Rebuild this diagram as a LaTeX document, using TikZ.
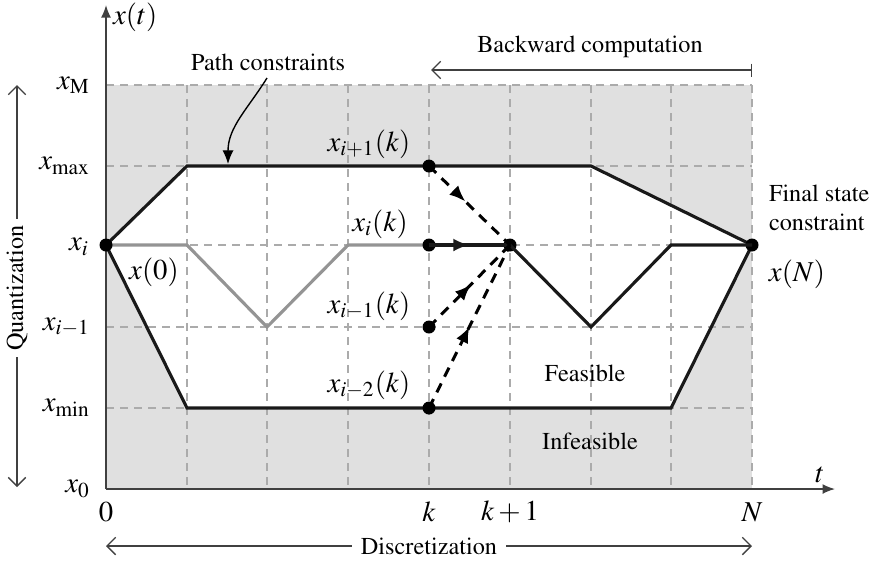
\documentclass[tikz,border=0pt]{standalone}
\usepackage[T1]{fontenc}
\usepackage{mathptmx}
\usetikzlibrary{arrows.meta,decorations.markings}
\newcommand{\mfs}{\fontsize{11.5}{13}\selectfont}
\newcommand{\tfs}{\fontsize{9.7}{11.5}\selectfont}
\begin{document}
\begin{tikzpicture}[x=0.4pt,y=-0.4pt,
  gridline/.style={draw=black!33, dash pattern=on 3.2pt off 2.4pt, line width=0.55pt},
  bound/.style={line width=1.25pt, draw=black!90, line join=miter},
  graypath/.style={line width=1.25pt, draw=black!42},
  axisline/.style={line width=0.65pt, draw=black!75, -{Latex[length=5pt,width=4pt]}},
  dot/.style={circle, fill=black, inner sep=0pt, minimum size=5.2pt},
  mlbl/.style={font=\mfs, inner sep=1pt},
  tlbl/.style={font=\tfs, inner sep=1pt},
  barb/.style={line width=0.55pt, draw=black!75},
  dashedarrow/.style={line width=1.2pt, dash pattern=on 4pt off 3pt},
  midarrow/.style={postaction={decorate}, decoration={markings,
     mark=at position #1 with {\arrow{Latex[length=6.5pt,width=5.2pt]}}}}
]
\useasboundingbox (0,0) rectangle (877,562);
% regions
\fill[black!12] (106,85) rectangle (752,489);
\fill[white] (106,245) -- (187,166) -- (591,166) -- (752,245) -- (671,408) -- (187,408) -- cycle;
% grid
\foreach \gx in {187,267,348,429,510,591,671,752}
  \draw[gridline] (\gx,85) -- (\gx,489);
\foreach \gy in {85,166,245,327,408}
  \draw[gridline] (106,\gy) -- (752,\gy);
% axes
\coordinate (O) at (106,489);
\coordinate (ytop) at (106,5);
\coordinate (xend) at (835,489);
\draw[axisline] (O) -- (ytop);
\draw[axisline] (O) -- (xend);
% key points
\coordinate (p0) at (106,245);
\coordinate (ua) at (187,166);
\coordinate (ub) at (591,166);
\coordinate (la) at (187,408);
\coordinate (lb) at (671,408);
\coordinate (pN) at (752,245);
\coordinate (g1) at (187,245);
\coordinate (g2) at (267,327);
\coordinate (g3) at (348,245);
\coordinate (pk) at (429,245);
\coordinate (pk1) at (510,245);
\coordinate (b1) at (591,327);
\coordinate (b2) at (671,245);
% boundaries
\draw[bound] (p0) -- (ua) -- (ub) -- (pN);
\draw[bound] (p0) -- (la) -- (lb) -- (pN);
% gray (past) path
\draw[graypath] (p0) -- (g1) -- (g2) -- (g3) -- (pk);
% dots
\node[dot] (d0) at (p0) {};
\node[dot] (dup) at (429,166) {};
\node[dot] (dk) at (pk) {};
\node[dot] (dk1) at (pk1) {};
\node[dot] (dlo) at (429,327) {};
\node[dot] (dmin) at (429,408) {};
\node[dot] (dN) at (pN) {};
% optimal path from k
\draw[bound, midarrow=0.5] (dk.center) -- (dk1.center);
\draw[bound] (dk1.center) -- (b1) -- (b2) -- (dN.center);
% candidate transitions
\draw[dashedarrow, midarrow=0.45] (dup.center) -- (dk1.center);
\draw[dashedarrow, midarrow=0.52] (dlo.center) -- (dk1.center);
\draw[dashedarrow, midarrow=0.5] (dmin.center) -- (dk1.center);
% y labels
\node[mlbl, anchor=east] (lxt0) at (93,85) {$x_{\mathrm{M}}$};
\node[mlbl, anchor=west] (lxt) at (110,17) {$x(t)$};
\node[mlbl, anchor=east] (lxmax) at (93,166) {$x_{\max}$};
\node[mlbl, anchor=east] (lxi) at (92,247) {$x_i$};
\node[mlbl, anchor=east] (lxim) at (93,327) {$x_{i-1}$};
\node[mlbl, anchor=east] (lxmin) at (93,408) {$x_{\min}$};
\node[mlbl, anchor=east] (lx0) at (93,489) {$x_0$};
% x labels
\node[mlbl] (l0) at (106,512) {$0$};
\node[mlbl] (lk) at (429,512) {$k$};
\node[mlbl] (lk1) at (510,512) {$k+1$};
\node[mlbl] (lN) at (752,512) {$N$};
\node[mlbl] (lt) at (820,475) {$t$};
% point labels
\node[mlbl] (lxi1k) at (369,144) {$x_{i+1}(k)$};
\node[mlbl] (lxik) at (380,224) {$x_{i}(k)$};
\node[mlbl] (lxim1k) at (369,306) {$x_{i-1}(k)$};
\node[mlbl] (lxim2k) at (369,385) {$x_{i-2}(k)$};
\node[mlbl] (lx0p) at (154,272) {$x(0)$};
\node[mlbl] (lxN) at (797,274) {$x(N)$};
% text labels
\node[tlbl, anchor=west, align=left] (lfinal) at (766,208) {Final state\\constraint};
\node[tlbl] (lfeas) at (585,373) {Feasible};
\node[tlbl] (linfeas) at (590,441) {Infeasible};
\node[tlbl] (lpath) at (268,62) {Path constraints};
\coordinate (pathtip) at (228,164);
\draw[line width=0.55pt, -{Latex[length=5.5pt,width=4.5pt]}] (267,78) to[out=-122, in=90] (pathtip);
% backward computation
\node[tlbl] (lback) at (590,47) {Backward computation};
\coordinate (bk1) at (752,70);
\coordinate (bk0) at (431,70);
\draw[barb, {Straight Barb[length=3.5pt,width=7pt]}-|] (bk0) -- (bk1);
% discretization
\node[tlbl, fill=white, inner xsep=3.5pt] (ldisc) at (429,546) {Discretization};
\coordinate (dL) at (106,546);
\coordinate (dR) at (752,546);
\draw[barb, -{Straight Barb[length=3.5pt,width=7pt]}] (ldisc.west) -- (dL);
\draw[barb, -{Straight Barb[length=3.5pt,width=7pt]}] (ldisc.east) -- (dR);
% quantization
\node[tlbl, rotate=90, inner xsep=2.5pt] (lquant) at (17,288) {Quantization};
\coordinate (qT) at (17,85);
\coordinate (qB) at (17,487);
\draw[barb, -{Straight Barb[length=3.5pt,width=7pt]}] (lquant.east) -- (qT);
\draw[barb, -{Straight Barb[length=3.5pt,width=7pt]}] (lquant.west) -- (qB);
\end{tikzpicture}
\end{document}
